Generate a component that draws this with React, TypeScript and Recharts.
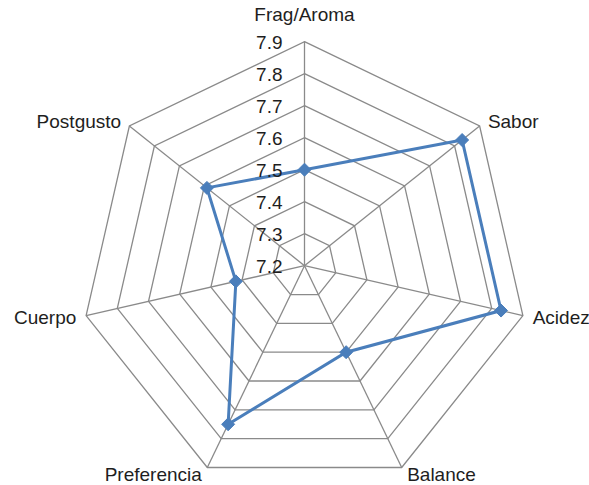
import { PolarAngleAxis, PolarGrid, PolarRadiusAxis, Radar, RadarChart } from "recharts";

const categories = ["Frag/Aroma", "Sabor", "Acidez", "Balance", "Preferencia", "Cuerpo", "Postgusto"];
const scores = [7.5, 7.83, 7.83, 7.5, 7.75, 7.42, 7.59];
const radiusMin = 7.2;
const radiusMax = 7.9;
const radiusTickCount = 8;

const data = categories.map((name, i) => ({ name, score: scores[i] }));

const font = "'Liberation Sans', Arial, sans-serif";
const lineColor = "#4a7ebb";
const gridColor = "#8a8a8a";

function AngleTick(props: any) {
  const { x, y, payload, textAnchor, cy } = props;
  let dx = 0;
  let dy = 0;
  if (textAnchor === "start") dx = 2;
  if (textAnchor === "end") dx = -2;
  if (textAnchor === "middle" && y < cy) dy = -19;
  return (
    <text x={x + dx} y={y + dy} dy="0.35em" textAnchor={textAnchor} fill="#1e1e1e" fontFamily={font} fontSize={19}>
      {payload.value}
    </text>
  );
}

function RadiusTick(props: any) {
  const { x, y, payload } = props;
  return (
    <text x={x - 22} y={y + 1} dy="0.35em" textAnchor="end" fill="#1e1e1e" fontFamily={font} fontSize={19}>
      {Number(payload.value).toFixed(1)}
    </text>
  );
}

function Diamond(props: any) {
  const { cx, cy } = props;
  const s = 6.5;
  return <path d={`M${cx},${cy - s}L${cx + s},${cy}L${cx},${cy + s}L${cx - s},${cy}Z`} fill={lineColor} stroke={lineColor} />;
}

export default function App() {
  return (
    <div style={{ position: "absolute", left: 0, top: 0, width: 589, height: 485, background: "#fff" }}>
      <RadarChart width={589} height={485} data={data} cx={304.5} cy={265.7} outerRadius={224} margin={{ top: 0, right: 0, bottom: 0, left: 0 }}>
        <PolarGrid gridType="polygon" stroke={gridColor} strokeWidth={1.3} />
        <PolarAngleAxis dataKey="name" tick={<AngleTick />} tickLine={false} axisLine={false} />
        <PolarRadiusAxis
          angle={90}
          type="number"
          domain={[radiusMin, radiusMax]}
          allowDecimals
          allowDataOverflow
          tickCount={radiusTickCount}
          tick={<RadiusTick />}
          tickLine={false}
          axisLine={false}
        />
        <Radar
          dataKey="score"
          stroke={lineColor}
          strokeWidth={3}
          fill="none"
          fillOpacity={0}
          dot={<Diamond />}
          isAnimationActive={false}
        />
      </RadarChart>
    </div>
  );
}
